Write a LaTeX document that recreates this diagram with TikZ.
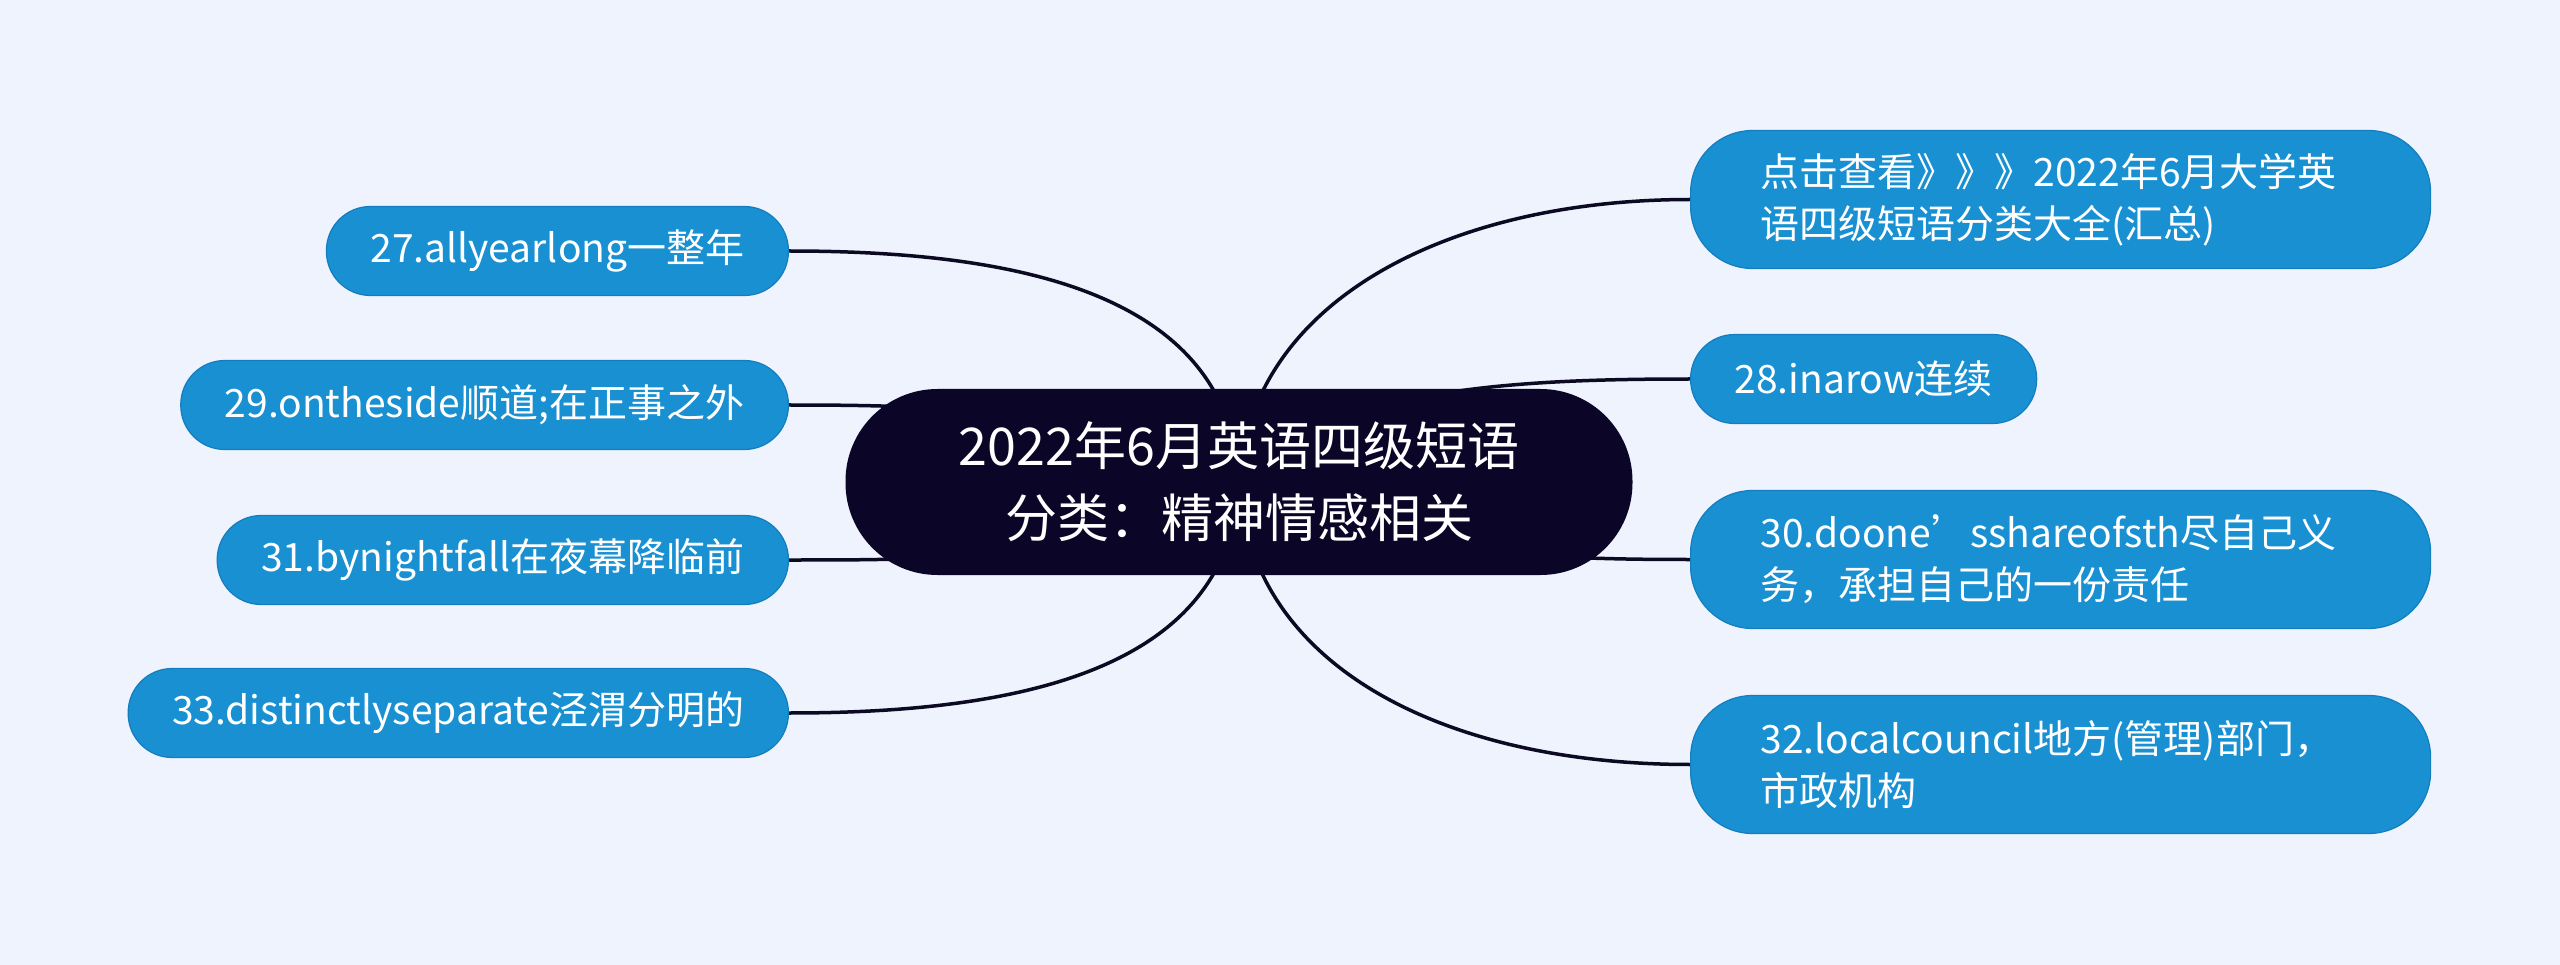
\documentclass[tikz,border=0pt]{standalone}
\usepackage{fontspec}
\newfontfamily\cjk{Noto Sans CJK SC}
\pgfdeclarelayer{back}
\pgfdeclarelayer{bg}
\pgfsetlayers{back,bg,main}
\definecolor{bgcol}{RGB}{238,243,253}
\definecolor{leafcol}{RGB}{25,144,210}
\definecolor{leafedge}{RGB}{20,125,190}
\definecolor{rootcol}{RGB}{11,6,40}
\definecolor{linecol}{RGB}{12,10,35}
\tikzset{
  rootbox/.style={fill=rootcol, text=white, rounded corners=92pt, minimum width=787pt,
    minimum height=186pt, align=center, inner sep=0pt,
    font=\cjk\fontsize{52}{72}\selectfont},
  leafbox/.style={fill=leafcol, draw=leafedge, line width=1.2pt, text=white, rounded corners=44pt,
    minimum height=89pt, inner xsep=44pt, inner ysep=0pt,
    font=\cjk\fontsize{39}{52}\selectfont},
  leafwide/.style={leafbox, rounded corners=62pt, minimum height=138pt, text width=600pt,
    align=left, inner xsep=70pt},
  link/.style={draw=linecol, line width=3.5pt}
}
\begin{document}
\begin{tikzpicture}[x=1pt,y=-1pt]
\useasboundingbox (0,0) rectangle (2560,965);
\begin{pgfonlayer}{back}
\fill[bgcol] (0,0) rectangle (2560,965);
\end{pgfonlayer}
\node[rootbox] (c) at (1239,482) {2022年6月英语四级短语\\分类：精神情感相关};
\node[leafbox, anchor=east] (n27) at (789,251) {27.allyearlong一整年};
\node[leafbox, anchor=east] (n29) at (789,405) {29.ontheside顺道;在正事之外};
\node[leafbox, anchor=east] (n31) at (789,560) {31.bynightfall在夜幕降临前};
\node[leafbox, anchor=east] (n33) at (789,713) {33.distinctlyseparate泾渭分明的};
\node[leafwide, anchor=west] (r1) at (1690,199.5) {点击查看》》》2022年6月大学英\\语四级短语分类大全(汇总)};
\node[leafbox, anchor=west] (n28) at (1690,379) {28.inarow连续};
\node[leafwide, anchor=west] (n30) at (1690,559.5) {30.doone’sshareofsth尽自己义\\务，承担自己的一份责任};
\node[leafwide, anchor=west] (n32) at (1690,764.5) {32.localcouncil地方(管理)部门，\\市政机构};
\begin{pgfonlayer}{bg}
\draw[link] (c.center) .. controls (1230,290) and (1010,251) .. (n27.east);
\draw[link] (c.center) .. controls (1100,410) and (950,405) .. (n29.east);
\draw[link] (c.center) .. controls (1100,560) and (950,560) .. (n31.east);
\draw[link] (c.center) .. controls (1230,674) and (1010,713) .. (n33.east);
\draw[link] (c.center) .. controls (1250,300) and (1450,199.5) .. (r1.west);
\draw[link] (c.center) .. controls (1330,390) and (1500,379) .. (n28.west);
\draw[link] (c.center) .. controls (1380,555) and (1550,559.5) .. (n30.west);
\draw[link] (c.center) .. controls (1250,670) and (1450,764.5) .. (n32.west);
\end{pgfonlayer}
\end{tikzpicture}
\end{document}
